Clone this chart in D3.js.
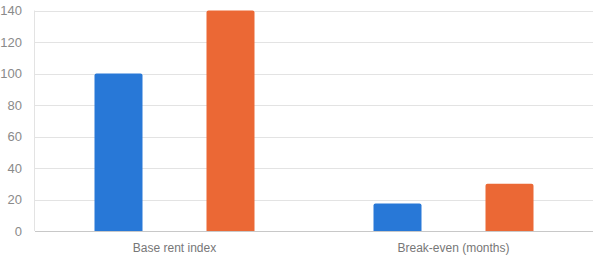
<!DOCTYPE html>
<html><head><meta charset="utf-8">
<script src="https://cdn.jsdelivr.net/npm/d3@7"></script>
<style>body{margin:0;background:#fff}svg{display:block}</style>
</head><body>
<svg id="c" width="594" height="260"></svg>
<script>
const categories = ["Base rent index", "Break-even (months)"];
const seriesNames = ["Series A", "Series B"];
const seriesA = [100, 17.5];
const seriesB = [140, 30];
const yTicks = [0, 20, 40, 60, 80, 100, 120, 140];
const colors = ["#2878d7", "#eb6835"];

(function () {
const svg = d3.select("#c");
const mLeft = 35, mRight = 593, mTop = 10.5, mBottom = 231;
const y = d3.scaleLinear().domain([0, 140]).range([mBottom, mTop]);
const x0 = d3.scaleBand().domain(categories).range([mLeft, mRight]).paddingInner(119/279).paddingOuter(119/558);
const x1 = d3.scaleBand().domain(seriesNames).range([0, x0.bandwidth()]).paddingInner(1 - 48/112).paddingOuter(0);

// gridlines
svg.append("g").selectAll("line").data(yTicks.filter(d => d > 0)).join("line")
  .attr("x1", mLeft).attr("x2", mRight)
  .attr("y1", d => Math.round(y(d)) + 0.5).attr("y2", d => Math.round(y(d)) + 0.5)
  .attr("stroke", "#e3e3e3").attr("stroke-width", 1);

// left axis line
svg.append("line").attr("x1", mLeft - 0.5).attr("x2", mLeft - 0.5).attr("y1", mTop).attr("y2", mBottom)
  .attr("stroke", "#e3e3e3");

// y tick labels
const yAxis = d3.axisLeft(y).tickValues(yTicks).tickSize(0).tickPadding(13);
const ga = svg.append("g").attr("transform", `translate(${mLeft},0)`).call(yAxis);
ga.select(".domain").remove();
ga.selectAll("text").attr("fill", "#8a8a8a").style("font", "13px 'Liberation Sans', Arial, sans-serif");

// bars
const data = categories.map((c, i) => ({cat: c, vals: [seriesA[i], seriesB[i]]}));
const r = 2;
function topRounded(x, yTop, w, h) {
  return `M${x},${yTop + h}V${yTop + r}Q${x},${yTop} ${x + r},${yTop}H${x + w - r}Q${x + w},${yTop} ${x + w},${yTop + r}V${yTop + h}Z`;
}
const g = svg.append("g").selectAll("g").data(data).join("g")
  .attr("transform", d => `translate(${x0(d.cat)},0)`);
g.selectAll("path").data(d => d.vals.map((v, j) => ({v, s: seriesNames[j], j}))).join("path")
  .attr("d", d => topRounded(x1(d.s), y(d.v), x1.bandwidth(), y(0) - y(d.v)))
  .attr("fill", d => colors[d.j]);

// baseline
svg.append("line").attr("x1", mLeft).attr("x2", mRight).attr("y1", mBottom + 0.5).attr("y2", mBottom + 0.5)
  .attr("stroke", "#c8c8c8");

// x labels
const xAxis = d3.axisBottom(x0).tickSize(0).tickPadding(12);
const gx = svg.append("g").attr("transform", `translate(0,${mBottom})`).call(xAxis);
gx.select(".domain").remove();
gx.selectAll("text").attr("fill", "#777").style("font", "12px 'Liberation Sans', Arial, sans-serif");
})();
</script>
</body></html>
